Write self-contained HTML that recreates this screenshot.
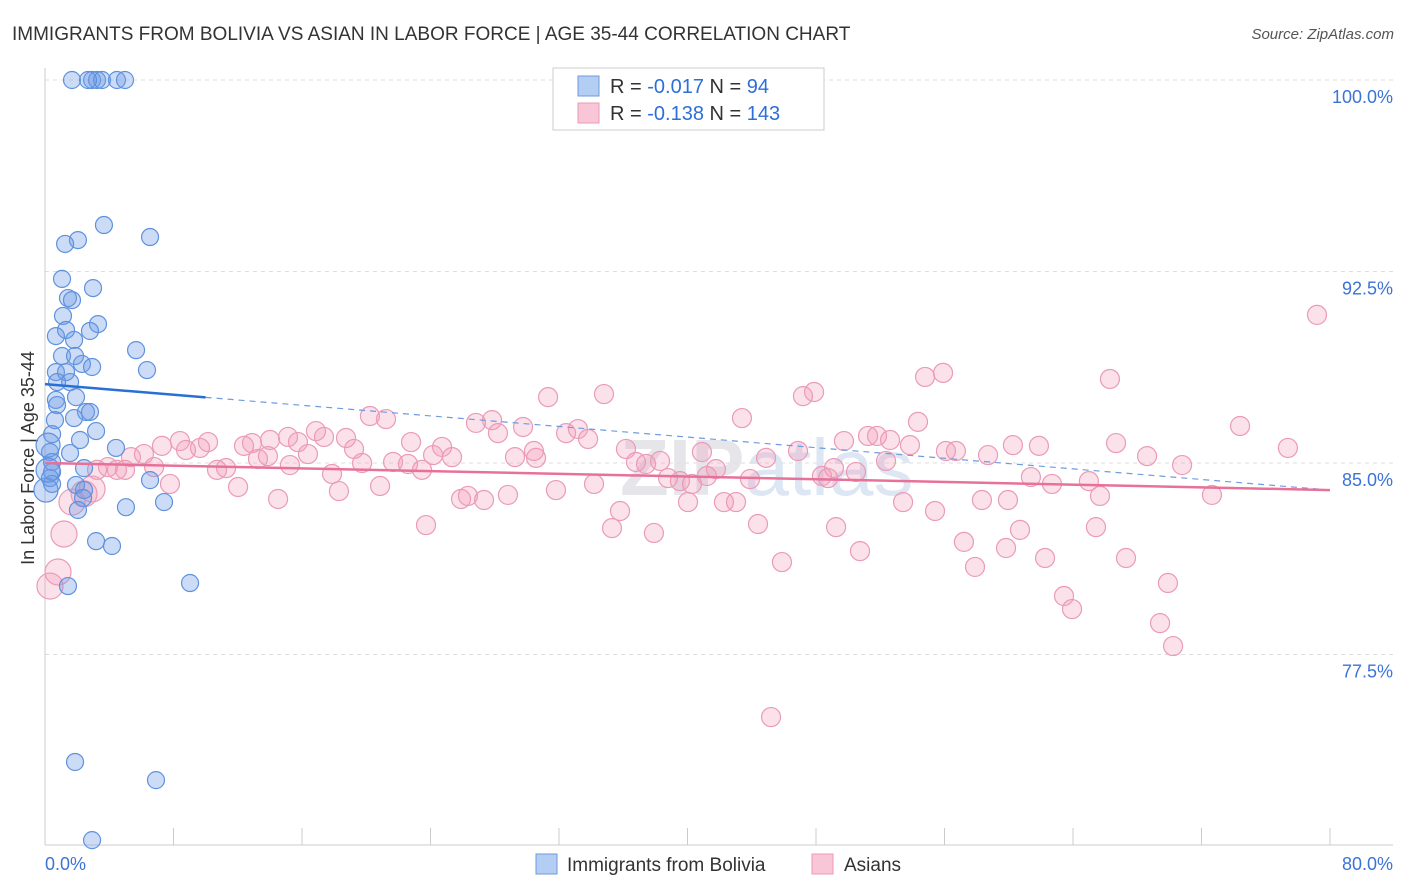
<!DOCTYPE html>
<html><head><meta charset="utf-8"><style>
body{margin:0;background:#fff;font-family:"Liberation Sans",sans-serif;}
svg{display:block}
</style></head><body>
<svg id="chart" width="1406" height="892">
<text x="12" y="40" font-size="19" fill="#333">IMMIGRANTS FROM BOLIVIA VS ASIAN IN LABOR FORCE | AGE 35-44 CORRELATION CHART</text>
<text x="1394" y="39" font-size="15" fill="#555" font-style="italic" text-anchor="end">Source: ZipAtlas.com</text>
<text x="620" y="495" font-size="80" fill="#e6e6ea" font-weight="bold">ZIP<tspan fill="#dde6f3" font-weight="normal">atlas</tspan></text>
<text transform="translate(34,458) rotate(-90)" font-size="18" fill="#333" text-anchor="middle">In Labor Force | Age 35-44</text>
<g id="grid"></g><g id="axes"></g><g id="pinkPts"></g><g id="bluePts"></g><g id="lines"></g>
<g>
<rect x="553" y="68" width="271" height="62" fill="#fff" stroke="#ccc"/>
<rect x="578" y="76" width="21" height="20" fill="#b3cdf3" stroke="#6c9be0"/>
<rect x="578" y="103" width="21" height="20" fill="#f8c6d6" stroke="#ec9ab6"/>
<text x="610" y="93" font-size="20" fill="#333">R = <tspan fill="#2d6fd8">-0.017</tspan>   N = <tspan fill="#2d6fd8"> 94</tspan></text>
<text x="610" y="120" font-size="20" fill="#333">R = <tspan fill="#2d6fd8">-0.138</tspan>   N = <tspan fill="#2d6fd8">143</tspan></text>
</g>
<g>
<rect x="536" y="854" width="21" height="20" fill="#b3cdf3" stroke="#6c9be0"/>
<text x="567" y="871" font-size="19" fill="#333">Immigrants from Bolivia</text>
<rect x="812" y="854" width="21" height="20" fill="#f8c6d6" stroke="#ec9ab6"/>
<text x="844" y="871" font-size="19" fill="#333">Asians</text>
</g>
</svg>
<script>
const yTicks=[100,92.5,85,77.5];
const yTickLabels=["100.0%","92.5%","85.0%","77.5%"];
const xTickVals=[0,8,16,24,32,40,48,56,64,72,80];
const blueX=[1.68,2.93,3.24,3.55,4.48,4.98,2.68,3.67,6.54,2.05,1.25,1.06,2.99,1.43,1.68,1.12,3.30,1.31,2.80,0.68,1.81,5.67,1.06,1.87,2.30,2.93,6.35,0.68,1.31,1.56,0.75,0.68,1.93,0.75,2.55,2.80,1.81,0.44,3.18,2.18,4.42,0.31,1.56,0.44,2.43,0.44,0.31,0.44,6.54,0.06,1.93,2.43,2.37,7.41,5.04,2.05,3.18,4.17,1.43,9.03,1.87,6.91,2.93,0.19,0.19,0.62];
const blueY=[100,100,100,100,100,100,100,94.32,93.85,93.73,93.58,92.21,91.85,91.46,91.38,90.76,90.44,90.21,90.17,89.97,89.82,89.42,89.19,89.19,88.88,88.76,88.64,88.56,88.56,88.17,88.17,87.47,87.58,87.27,87.0,87.0,86.76,86.13,86.25,85.90,85.59,85.43,85.39,85.04,84.80,84.65,84.41,84.18,84.33,83.94,84.14,83.94,83.63,83.47,83.27,83.16,81.94,81.75,80.18,80.30,73.29,72.58,70.23,84.72,85.70,86.68];
const pinkX=[79.19,55.91,54.79,66.30,47.88,47.19,31.32,34.80,20.23,21.23,43.39,54.35,74.40,27.83,29.76,26.83,16.87,17.37,15.13,18.74,28.20,32.44,33.18,51.24,51.80,52.61,53.85,49.74,66.68,77.38,60.26,61.88,56.09,56.71,22.79,24.72,24.16,25.34,7.28,8.40,10.15,9.65,8.78,12.39,12.89,14.01,15.75,16.37,19.24,33.81,36.17,40.90,41.77,38.29,36.79,37.42,29.26,30.57,30.44,44.89,46.88,49.12,52.36,58.71,68.61,70.79,13.26,13.88,15.25,17.87,19.74,21.67,22.60,23.47,10.71,11.27,12.02,6.79,3.92,4.48,4.98,3.24,5.35,6.16,7.78,2.43,2.93,1.68,1.18,0.81,0.31,20.86,18.30,14.51,25.90,26.33,27.33,28.82,31.81,34.18,38.79,39.53,40.28,41.21,42.27,43.02,40.03,43.89,48.37,48.75,50.49,61.38,62.69,64.99,65.68,72.65,58.33,59.95,53.42,55.41,23.72,35.30,35.80,37.91,44.39,49.25,60.70,65.43,57.21,59.83,50.74,62.26,67.30,45.88,57.90,69.91,63.44,63.94,69.42,70.23,45.20];
const pinkY=[90.80,88.53,88.37,88.29,87.78,87.62,87.58,87.70,86.84,86.72,86.76,86.61,86.45,86.68,86.41,86.57,86.25,86.02,86.02,85.98,86.17,86.17,86.33,86.06,86.06,85.90,85.70,85.86,85.78,85.59,85.70,85.67,85.47,85.47,85.82,85.63,85.31,85.23,85.67,85.86,85.82,85.59,85.51,85.67,85.78,85.90,85.82,85.35,85.55,85.94,85.55,85.43,84.76,85.08,85.04,84.96,85.23,85.20,85.47,85.20,85.47,84.80,85.08,85.31,85.27,84.92,85.16,85.27,84.92,84.57,85.00,85.04,84.96,84.73,84.73,84.80,84.06,84.84,84.84,84.73,84.73,84.73,85.23,85.35,84.18,83.79,83.98,83.47,82.22,80.73,80.18,84.10,83.90,83.59,83.59,83.71,83.55,83.75,83.94,84.18,84.41,84.29,84.18,84.49,83.47,83.47,83.47,84.37,84.49,84.41,84.65,84.45,84.18,84.29,83.71,83.75,83.55,83.55,83.47,83.12,82.57,82.45,83.12,82.26,82.61,82.49,82.38,82.49,81.91,81.67,81.55,81.28,81.28,81.12,80.93,80.30,79.79,79.28,78.73,77.83,75.05];
const blueTrend=[88.09,83.94];
const pinkTrend=[85.0,83.94];
const X0=45,X1=1330,Y100=80,PXPER=191.5/7.5;
const sx=v=>X0+(v/80)*(X1-X0);
const sy=v=>Y100+(100-v)*PXPER;
const NS="http://www.w3.org/2000/svg";
function mk(tag,attrs,parent){const e=document.createElementNS(NS,tag);for(const k in attrs)e.setAttribute(k,attrs[k]);parent.appendChild(e);return e;}
const grid=document.getElementById('grid'),axes=document.getElementById('axes');
yTicks.forEach((t,i)=>{
 const l=mk('line',{x1:X0,x2:1393,y1:sy(t),y2:sy(t),stroke:'#ddd','stroke-dasharray':'4,4'},grid);
 
 
 const tx=mk('text',{x:1393,y:sy(t)+23,'font-size':18,fill:'#3b73d6','text-anchor':'end'},axes);
 tx.textContent=yTickLabels[i];
 
 
});
const ya=mk('line',{x1:X0,x2:X0,y1:68,y2:845,stroke:'#ccc'},axes);


const xa=mk('line',{x1:X0,x2:1393,y1:845,y2:845,stroke:'#ccc'},axes);


xTickVals.forEach(t=>{
 const l=mk('line',{x1:sx(t),x2:sx(t),y1:828,y2:845,stroke:'#ccc'},axes);
 
 
});
const xl0=mk('text',{x:45,y:870,'font-size':18,fill:'#3b73d6'},axes);xl0.textContent='0.0%';


const xl1=mk('text',{x:1393,y:870,'font-size':18,fill:'#3b73d6','text-anchor':'end'},axes);xl1.textContent='80.0%';


const pg=document.getElementById('pinkPts');
pinkX.forEach((x,i)=>{
 const r=x<3?13:9.5;
 const c=mk('circle',{cx:sx(x),cy:sy(pinkY[i]),r:r,fill:'rgba(242,155,185,0.3)',stroke:'#eb9ab7','stroke-width':1.2},pg);
 
 
});
const bg=document.getElementById('bluePts');
blueX.forEach((x,i)=>{
 const r=x<0.2?12:8.5;
 const c=mk('circle',{cx:sx(x),cy:sy(blueY[i]),r:r,fill:'rgba(110,155,230,0.35)',stroke:'#5f92de','stroke-width':1.2},bg);
 
 
});
const lg=document.getElementById('lines');
const bAt=x=>blueTrend[0]+(blueTrend[1]-blueTrend[0])*x/80;
const b1=mk('line',{x1:sx(0),y1:sy(bAt(0)),x2:sx(10),y2:sy(bAt(10)),stroke:'#2a6fd6','stroke-width':2.5},lg);


const b2=mk('line',{x1:sx(10),y1:sy(bAt(10)),x2:sx(80),y2:sy(bAt(80)),stroke:'#6f9be0','stroke-width':1.2,'stroke-dasharray':'6,5'},lg);


const p1=mk('line',{x1:sx(0),y1:sy(pinkTrend[0]),x2:sx(80),y2:sy(pinkTrend[1]),stroke:'#e8719a','stroke-width':2.5},lg);


</script>
</body></html>
